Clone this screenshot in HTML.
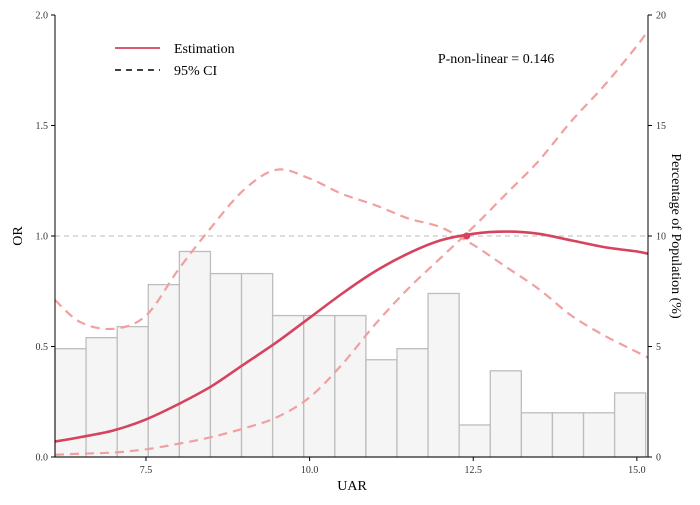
<!DOCTYPE html>
<html><head><meta charset="utf-8"><style>
body{margin:0;background:#fff;}
svg{font-family:"Liberation Serif",serif;}
</style></head><body>
<svg id="chart" width="700" height="500" viewBox="0 0 700 500" xmlns="http://www.w3.org/2000/svg"></svg>
<script>
const barStarts=[6.11,6.585,7.06,7.535,8.01,8.485,8.96,9.435,9.91,10.385,10.86,11.335,11.81,12.285,12.76,13.235,13.71,14.185,14.66];
const barValues=[4.9,5.4,5.9,7.8,9.3,8.3,8.3,6.4,6.4,6.4,4.4,4.9,7.4,1.45,3.9,2.0,2.0,2.0,2.9];
const curveX=[6.11,6.5,7.0,7.5,8.0,8.5,9.0,9.5,10.0,10.5,11.0,11.5,12.0,12.5,13.0,13.5,14.0,14.5,15.0,15.17];
const estimate=[0.07,0.09,0.12,0.17,0.24,0.32,0.42,0.52,0.63,0.74,0.84,0.92,0.98,1.01,1.02,1.01,0.98,0.95,0.93,0.92];
const upperCI=[0.71,0.61,0.58,0.64,0.85,1.04,1.21,1.30,1.26,1.19,1.14,1.08,1.04,0.96,0.86,0.76,0.64,0.55,0.475,0.45];
const lowerCI=[0.01,0.015,0.02,0.035,0.06,0.09,0.13,0.18,0.27,0.42,0.60,0.76,0.90,1.04,1.19,1.34,1.52,1.68,1.86,1.93];
const xTicks=[7.5,10.0,12.5,15.0];
const yTicks=[0,0.5,1.0,1.5,2.0];
const y2Ticks=[0,5,10,15,20];
const barWidth=0.475;
const refX=12.4;

const L=55,R=648,T=15,B=457;
const xMin=6.11,xMax=15.17;
const sx=v=>L+(v-xMin)/(xMax-xMin)*(R-L);
const sy=v=>B-v/2*(B-T);
const sy2=v=>B-v/20*(B-T);
const svg=document.getElementById('chart');
const NS='http://www.w3.org/2000/svg';
function mk(tag,attrs,name,parent){const e=document.createElementNS(NS,tag);for(const k in attrs)e.setAttribute(k,attrs[k]);


(parent||svg).appendChild(e);return e;}
barValues.forEach((v,i)=>{mk('rect',{x:sx(barStarts[i]),y:sy2(v),width:sx(barStarts[i]+barWidth)-sx(barStarts[i]),height:B-sy2(v),fill:'#f5f5f5',stroke:'#bdbdbd','stroke-width':1.3},'histogram-bar');});
mk('line',{x1:L,x2:R,y1:sy(1),y2:sy(1),stroke:'#bbb','stroke-dasharray':'5,4','stroke-width':1},'reference-line');
function path(arr){
  const p=arr.map((v,i)=>[sx(curveX[i]),sy(v)]);
  let d='M'+p[0][0].toFixed(1)+','+p[0][1].toFixed(1);
  for(let i=0;i<p.length-1;i++){
    const p0=p[Math.max(0,i-1)],p1=p[i],p2=p[i+1],p3=p[Math.min(p.length-1,i+2)];
    const c1=[p1[0]+(p2[0]-p0[0])/6,p1[1]+(p2[1]-p0[1])/6];
    const c2=[p2[0]-(p3[0]-p1[0])/6,p2[1]-(p3[1]-p1[1])/6];
    d+='C'+c1.map(n=>n.toFixed(1)).join(',')+' '+c2.map(n=>n.toFixed(1)).join(',')+' '+p2[0].toFixed(1)+','+p2[1].toFixed(1);
  }
  return d;
}
mk('path',{d:path(upperCI),fill:'none',stroke:'#f0a0a0','stroke-width':2.2,'stroke-dasharray':'9,6'},'upper-ci-line');
mk('path',{d:path(lowerCI),fill:'none',stroke:'#f0a0a0','stroke-width':2.2,'stroke-dasharray':'9,6'},'lower-ci-line');
mk('path',{d:path(estimate),fill:'none',stroke:'#d6435e','stroke-width':2.6},'estimation-line');
mk('circle',{cx:sx(refX),cy:sy(1),r:3.5,fill:'#d6435e'},'reference-point');
mk('line',{x1:L,x2:L,y1:T,y2:B,stroke:'#000'},'left-axis');
mk('line',{x1:R,x2:R,y1:T,y2:B,stroke:'#000'},'right-axis');
mk('line',{x1:L,x2:R,y1:B,y2:B,stroke:'#000'},'x-axis');
xTicks.forEach(t=>{mk('line',{x1:sx(t),x2:sx(t),y1:B,y2:B+4,stroke:'#000'},'x-tick');
const tx=mk('text',{x:sx(t),y:B+16,'font-size':10,'text-anchor':'middle',fill:'#333'},'x-tick-label');tx.textContent=t.toFixed(1);});
yTicks.forEach(t=>{mk('line',{x1:L-4,x2:L,y1:sy(t),y2:sy(t),stroke:'#000'},'y-tick');
const tx=mk('text',{x:L-7,y:sy(t)+3.5,'font-size':10,'text-anchor':'end',fill:'#333'},'y-tick-label');tx.textContent=t.toFixed(1);});
y2Ticks.forEach(t=>{mk('line',{x1:R,x2:R+4,y1:sy2(t),y2:sy2(t),stroke:'#000'},'y2-tick');
const tx=mk('text',{x:R+8,y:sy2(t)+3.5,'font-size':10,fill:'#333'},'y2-tick-label');tx.textContent=t;});
let t=mk('text',{x:352,y:490,'font-size':14,'text-anchor':'middle'},'x-axis-title');t.textContent='UAR';
t=mk('text',{x:22,y:236,'font-size':14,'text-anchor':'middle',transform:'rotate(-90 22 236)'},'y-axis-title');t.textContent='OR';
t=mk('text',{x:672,y:236,'font-size':14,'text-anchor':'middle',transform:'rotate(90 672 236)'},'y2-axis-title');t.textContent='Percentage of Population (%)';
t=mk('text',{x:496,y:63,'font-size':14,'text-anchor':'middle'},'p-value-label');t.textContent='P-non-linear = 0.146';
mk('line',{x1:115,x2:160,y1:48,y2:48,stroke:'#d6435e','stroke-width':1.8},'legend-estimation-line');
t=mk('text',{x:174,y:53,'font-size':14},'legend-estimation-label');t.textContent='Estimation';
mk('line',{x1:115,x2:160,y1:70,y2:70,stroke:'#000','stroke-width':1.5,'stroke-dasharray':'6,5'},'legend-ci-line');
t=mk('text',{x:174,y:75,'font-size':14},'legend-ci-label');t.textContent='95% CI';
</script>
</body></html>
